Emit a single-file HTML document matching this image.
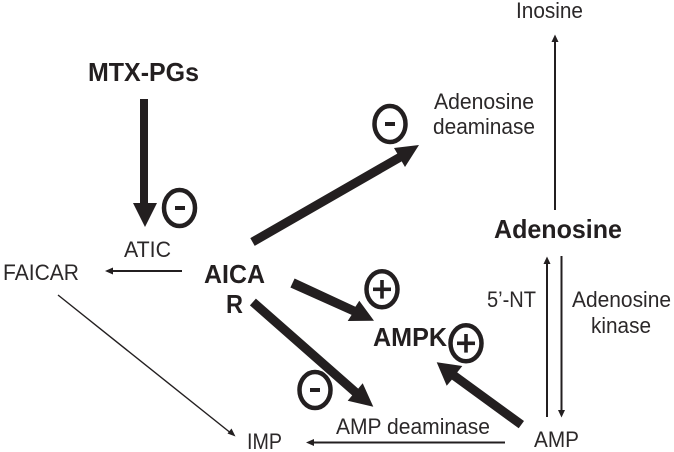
<!DOCTYPE html>
<html>
<head>
<meta charset="utf-8">
<style>
html,body{margin:0;padding:0;background:#fff;width:674px;height:452px;overflow:hidden}
svg{display:block}
text{font-family:"Liberation Sans",Arial,sans-serif;fill:#2b2829;font-size:22px}
.b{font-weight:bold;fill:#231f20;font-size:26px}
.c{fill:none;stroke:#231f20;stroke-width:4.5}
.l{stroke:#231f20;stroke-width:2;fill:none}
.f{fill:#231f20}
</style>
</head>
<body>
<svg width="674" height="452" viewBox="0 0 674 452" xmlns="http://www.w3.org/2000/svg">
<text class="b" x="88" y="81" textLength="111" lengthAdjust="spacingAndGlyphs">MTX-PGs</text>
<text class="b" x="204" y="283" textLength="61" lengthAdjust="spacingAndGlyphs">AICA</text>
<text class="b" x="226" y="313" textLength="17" lengthAdjust="spacingAndGlyphs">R</text>
<text class="b" x="373" y="346" textLength="74" lengthAdjust="spacingAndGlyphs">AMPK</text>
<text class="b" x="494" y="238" textLength="128" lengthAdjust="spacingAndGlyphs">Adenosine</text>

<text x="124" y="257" textLength="47" lengthAdjust="spacingAndGlyphs">ATIC</text>
<text x="3" y="280" textLength="76" lengthAdjust="spacingAndGlyphs">FAICAR</text>
<text x="247" y="449" textLength="35" lengthAdjust="spacingAndGlyphs">IMP</text>
<text x="336" y="434" textLength="154" lengthAdjust="spacingAndGlyphs">AMP deaminase</text>
<text x="534" y="447" textLength="45" lengthAdjust="spacingAndGlyphs">AMP</text>
<text x="487" y="307" textLength="49" lengthAdjust="spacingAndGlyphs">5’-NT</text>
<text x="572" y="307" textLength="99" lengthAdjust="spacingAndGlyphs">Adenosine</text>
<text x="591" y="333" textLength="60" lengthAdjust="spacingAndGlyphs">kinase</text>
<text x="516" y="18" textLength="67" lengthAdjust="spacingAndGlyphs">Inosine</text>
<text x="434" y="109" textLength="100" lengthAdjust="spacingAndGlyphs">Adenosine</text>
<text x="433" y="134" textLength="102" lengthAdjust="spacingAndGlyphs">deaminase</text>

<!-- thick arrows -->
<polygon class="f" points="140,99 148,99 148,203 157,203 145,227 133,203 140,203"/>
<polygon class="f" points="250.3,238.1 254.7,245.9 401.7,161.4 405,167 419,145 394,148 397.3,153.6"/>
<polygon class="f" points="294.6,278.5 290.4,287.5 351.6,314.9 347.7,321 374,320.7 359.3,300.7 355.4,306.8"/>
<polygon class="f" points="255.9,298.6 249.9,305.4 352.2,395.4 347.7,400.7 373.3,406.7 362.7,383.3 358.2,388.6"/>
<polygon class="f" points="524,421 518.7,428.3 451.9,379.6 446.7,385.7 436.7,362.3 462.3,366 457.2,372.4"/>

<!-- thin arrows -->
<line class="l" x1="182" y1="271" x2="110" y2="271"/>
<polygon class="f" points="105,271 113,267.5 113,274.5"/>
<line x1="58" y1="295" x2="232" y2="434" stroke="#231f20" stroke-width="1.4"/>
<polygon class="f" points="235.5,436.5 227.5,433.5 231.5,428.5"/>
<line class="l" x1="505" y1="442.5" x2="311" y2="442.5"/>
<polygon class="f" points="306,442.5 314,439 314,446"/>
<line class="l" x1="555" y1="210" x2="555" y2="39"/>
<polygon class="f" points="555,34.5 558.5,42 551.5,42"/>
<line class="l" x1="547" y1="417" x2="547" y2="261"/>
<polygon class="f" points="547,256.5 550.5,264 543.5,264"/>
<line class="l" x1="561.5" y1="256" x2="561.5" y2="413"/>
<polygon class="f" points="561.5,417.5 558,410 565,410"/>

<!-- circles -->
<ellipse class="c" cx="179.5" cy="208" rx="15.5" ry="18"/>
<rect class="f" x="175" y="206" width="10" height="4"/>
<ellipse class="c" cx="390" cy="124" rx="15.5" ry="18"/>
<rect class="f" x="385" y="122" width="10" height="4"/>
<ellipse class="c" cx="315" cy="390" rx="15.5" ry="18"/>
<rect class="f" x="310" y="388" width="10" height="4"/>
<ellipse class="c" cx="382" cy="289.3" rx="15.5" ry="18"/>
<rect class="f" x="373" y="287.5" width="18" height="3.6"/>
<rect class="f" x="380.2" y="280" width="3.6" height="18.6"/>
<ellipse class="c" cx="466" cy="343.3" rx="15.5" ry="18"/>
<rect class="f" x="457" y="341.5" width="18" height="3.6"/>
<rect class="f" x="464.2" y="334" width="3.6" height="18.6"/>
</svg>
</body>
</html>
